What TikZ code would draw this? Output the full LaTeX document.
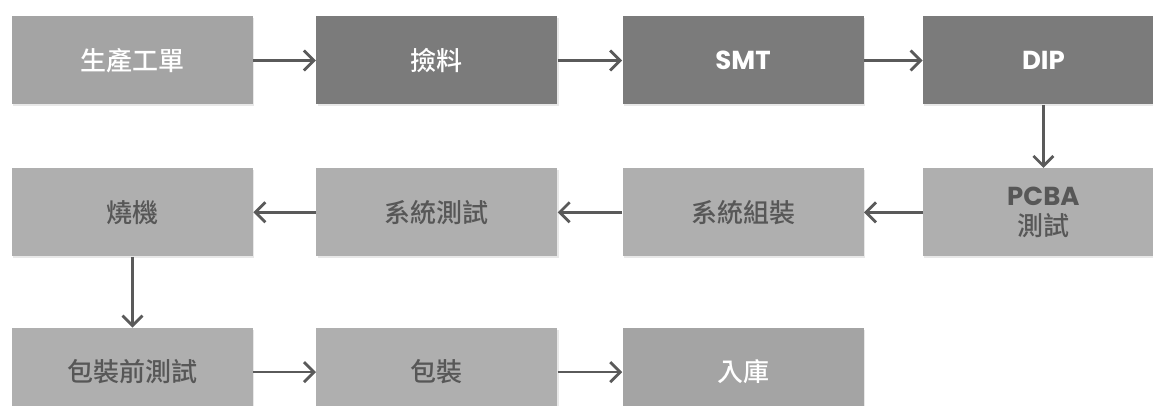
\documentclass[tikz,border=0pt]{standalone}
\usepackage{fontspec}
\setmainfont{Poppins}
\newfontfamily\cjk{Noto Sans CJK TC}[BoldFont={Noto Sans CJK TC Medium}]
\usetikzlibrary{positioning,shadows,arrows.meta}
\definecolor{darkfill}{HTML}{7B7B7B}
\definecolor{midfill}{HTML}{A4A4A4}
\definecolor{lightfill}{HTML}{AFAFAF}
\definecolor{darktext}{HTML}{575757}
\definecolor{arrowgray}{HTML}{5A5A5A}
\tikzset{stage/.style={rectangle,minimum width=120.5pt,minimum height=44pt,inner sep=0pt,
           align=center,font=\fontsize{13}{15}\selectfont\bfseries,
           drop shadow={shadow xshift=0.6pt,shadow yshift=-0.9pt,opacity=0.18}},
         darkstage/.style={stage,fill=darkfill,text=white},
         midstage/.style={stage,fill=midfill,text=white},
         lightstage/.style={stage,fill=lightfill,text=darktext},
         flow/.style={-{Straight Barb[length=5pt,width=10pt]},line width=1.4pt,draw=arrowgray}}

\begin{document}
\begin{tikzpicture}[x=0.5pt,y=-0.5pt]
                   \clip (0,0) rectangle (1153,406);
                   \node[midstage] (p_0) at (132.5,60.5) {\cjk 生產工單};
                   \node[darkstage] (p_1) [right=31.25pt of p_0] {\cjk 撿料};
                   \node[darkstage] (p_2) [right=32.25pt of p_1] {SMT};
                   \node[darkstage] (p_3) [right=29.25pt of p_2] {DIP};
                   \node[lightstage] (p_4) [below=31.5pt of p_3] {PCBA\\{\cjk 測試}};
                   \node[lightstage] (p_5) [left=29.25pt of p_4] {\cjk 系統組裝};
                   \node[lightstage] (p_6) [left=32.25pt of p_5] {\cjk 系統測試};
                   \node[lightstage] (p_7) [left=31.25pt of p_6] {\cjk 燒機};
                   \node[lightstage] (p_8) [below=35.5pt of p_7] {\cjk 包裝前測試};
                   \node[lightstage] (p_9) [right=31.25pt of p_8] {\cjk 包裝};
                   \node[midstage] (p_10) [right=32.25pt of p_9] {\cjk 入庫};
                    \path[flow]
                    (p_0) edge (p_1)
                    (p_1) edge (p_2)
                    (p_2) edge (p_3)
                    (p_3) edge (p_4)
                    (p_4) edge (p_5)
                    (p_5) edge (p_6)
                    (p_6) edge (p_7)
                    (p_7) edge (p_8)
                    (p_8) edge (p_9)
                    (p_9) edge (p_10)
					;
                \end{tikzpicture}
\end{document}
